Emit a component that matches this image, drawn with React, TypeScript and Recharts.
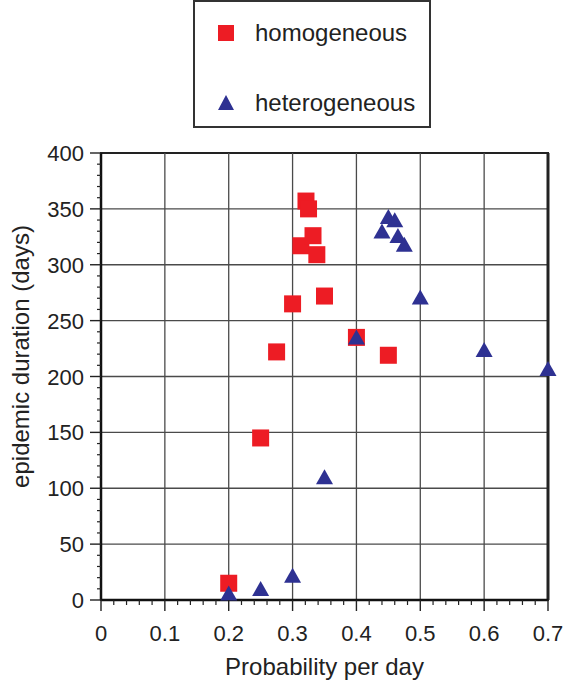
import React from "react";
import {
  ScatterChart,
  Scatter,
  XAxis,
  YAxis,
  ReferenceLine,
  ReferenceArea,
  Label,
} from "recharts";

const HOMOGENEOUS_X = [0.2, 0.25, 0.275, 0.3, 0.313, 0.321, 0.325, 0.332, 0.338, 0.35, 0.4, 0.45];
const HOMOGENEOUS_Y = [15, 145, 222, 265, 317, 357, 350, 326, 309, 272, 235, 219];

const HETEROGENEOUS_X = [0.2, 0.25, 0.3, 0.35, 0.4, 0.44, 0.45, 0.46, 0.465, 0.475, 0.5, 0.6, 0.7];
const HETEROGENEOUS_Y = [4, 8, 20, 108, 233, 328, 341, 338, 324, 316, 269, 222, 205];

const X_MAJOR = [0, 0.1, 0.2, 0.3, 0.4, 0.5, 0.6, 0.7];
const Y_MAJOR = [0, 50, 100, 150, 200, 250, 300, 350, 400];

const X_TICKS: number[] = [];
for (let k = 0; k <= 35; k++) X_TICKS.push(Math.round(k * 2) / 100);
const Y_TICKS: number[] = [];
for (let k = 0; k <= 40; k++) Y_TICKS.push(k * 10);

const RED = "#ed1c24";
const BLUE = "#2e3192";
const FONT = "'Liberation Sans', Arial, Helvetica, sans-serif";

const homData = HOMOGENEOUS_X.map((x, i) => ({ x, y: HOMOGENEOUS_Y[i] }));
const hetData = HETEROGENEOUS_X.map((x, i) => ({ x, y: HETEROGENEOUS_Y[i] }));

const isMajor = (v: number, list: number[]) => list.some((m) => Math.abs(m - v) < 1e-6);

const XTick = (props: any) => {
  const { x, y, payload } = props;
  const v = payload.value;
  if (!isMajor(v, X_MAJOR)) {
    return <line x1={x} x2={x} y1={y} y2={y + 5} stroke="#222" strokeWidth={1.2} />;
  }
  return (
    <g>
      <line x1={x} x2={x} y1={y} y2={y + 11} stroke="#222" strokeWidth={1.4} />
      <text x={x} y={y + 41} textAnchor="middle" fontSize={22} fill="#222" fontFamily={FONT}>
        {String(v)}
      </text>
    </g>
  );
};

const YTick = (props: any) => {
  const { x, y, payload } = props;
  const v = payload.value;
  if (!isMajor(v, Y_MAJOR)) {
    return <line x1={x - 4} x2={x} y1={y} y2={y} stroke="#222" strokeWidth={1.2} />;
  }
  return (
    <g>
      <line x1={x - 11} x2={x} y1={y} y2={y} stroke="#222" strokeWidth={1.4} />
      <text x={x - 17} y={y + 8} textAnchor="end" fontSize={22} fill="#222" fontFamily={FONT}>
        {String(v)}
      </text>
    </g>
  );
};

const YTitle = (props: any) => {
  const { viewBox } = props;
  const cx = viewBox.x + 29;
  const cy = viewBox.y + viewBox.height / 2 - 20;
  return (
    <text
      x={cx}
      y={cy}
      transform={`rotate(-90, ${cx}, ${cy})`}
      textAnchor="middle"
      fontSize={24}
      fill="#222"
      fontFamily={FONT}
    >
      epidemic duration (days)
    </text>
  );
};

const Square = (props: any) => {
  const { cx, cy } = props;
  return <rect x={cx - 8.5} y={cy - 8.5} width={17} height={17} fill={RED} />;
};

const Triangle = (props: any) => {
  const { cx, cy } = props;
  return (
    <polygon
      points={`${cx},${cy - 10} ${cx + 8.5},${cy + 5} ${cx - 8.5},${cy + 5}`}
      fill={BLUE}
    />
  );
};

const SERIES = [
  { name: "homogeneous", color: RED, shape: "square" },
  { name: "heterogeneous", color: BLUE, shape: "triangle" },
];

function LegendBox() {
  return (
    <div
      style={{
        position: "absolute",
        left: 193,
        top: 0,
        width: 234,
        height: 124,
        border: "2px solid #333",
        fontFamily: FONT,
        fontSize: 24,
        color: "#222",
      }}
    >
      {SERIES.map((s, i) => (
        <div
          key={s.name}
          style={{
            position: "absolute",
            left: 0,
            top: i === 0 ? 14 : 84,
            height: 34,
            display: "flex",
            alignItems: "center",
          }}
        >
          <svg width={60} height={34} style={{ display: "block" }}>
            {s.shape === "square" ? (
              <rect x={23} y={9} width={16} height={16} fill={s.color} />
            ) : (
              <polygon points="31,9 39,24 23,24" fill={s.color} />
            )}
          </svg>
          <span>{s.name}</span>
        </div>
      ))}
    </div>
  );
}

export default function App() {
  return (
    <div style={{ position: "absolute", left: 0, top: 0, width: 566, height: 684, background: "#fff" }}>
      <ScatterChart width={566} height={684} margin={{ top: 153, right: 18, bottom: 0, left: 0 }}>
        <XAxis
          type="number"
          dataKey="x"
          domain={[0, 0.7]}
          ticks={X_TICKS}
          interval={0}
          tickSize={0}
          tickMargin={0}
          tickLine={false}
          tick={<XTick />}
          height={84}
          axisLine={{ stroke: "#111", strokeWidth: 2.5 }}
        >
          <Label
            value="Probability per day"
            position="insideBottom"
            offset={9}
            style={{ fontSize: 24, fill: "#222", fontFamily: FONT }}
          />
        </XAxis>
        <YAxis
          type="number"
          dataKey="y"
          domain={[0, 400]}
          ticks={Y_TICKS}
          interval={0}
          tickSize={0}
          tickMargin={0}
          tickLine={false}
          tick={<YTick />}
          width={101}
          axisLine={{ stroke: "#111", strokeWidth: 2.5 }}
        >
          <Label content={<YTitle />} />
        </YAxis>
        {X_MAJOR.slice(1, -1).map((v) => (
          <ReferenceLine key={"x" + v} x={v} stroke="#4a4a4a" strokeWidth={1.3} />
        ))}
        {Y_MAJOR.slice(1, -1).map((v) => (
          <ReferenceLine key={"y" + v} y={v} stroke="#4a4a4a" strokeWidth={1.3} />
        ))}
        <ReferenceArea x1={0} x2={0.7} y1={0} y2={400} fill="none" fillOpacity={0} stroke="#222" strokeWidth={2} />
        <ReferenceLine x={0.7} stroke="#222" strokeWidth={3} />
        <Scatter name="homogeneous" data={homData} shape={<Square />} isAnimationActive={false} />
        <Scatter name="heterogeneous" data={hetData} shape={<Triangle />} isAnimationActive={false} />
      </ScatterChart>
      <LegendBox />
    </div>
  );
}
